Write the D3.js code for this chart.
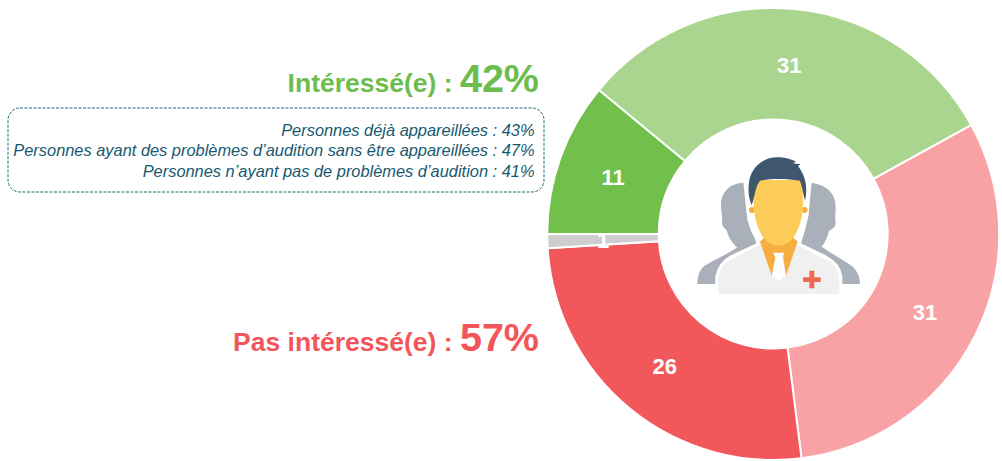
<!DOCTYPE html>
<html lang="fr"><head><meta charset="utf-8">
<script src="https://cdn.jsdelivr.net/npm/d3@7/dist/d3.min.js"></script>
<style>html,body{margin:0;padding:0;background:#fff}svg{display:block}text{font-family:"Liberation Sans",Arial,sans-serif}</style>
</head><body><svg id="c" width="1002" height="461"></svg>
<script>
const segments = ["Intéressé déjà", "Intéressé", "Pas intéressé", "Pas intéressé du tout", "NSP"];
const values = [11, 31, 31, 26, 1];
const colors = ["#70c04b", "#a9d58f", "#f8a2a6", "#f2575c", "#cfcdce"];
const headlines = [["Intéressé(e) : ", "42%", "#6dbd4e"], ["Pas intéressé(e) : ", "57%", "#f2565b"]];
const detailLines = ["Personnes déjà appareillées : 43%", "Personnes ayant des problèmes d’audition sans être appareillées : 47%", "Personnes n’ayant pas de problèmes d’audition : 41%"];

const svg = d3.select("#c");
const cx = 773.2, cy = 234, R = 226, r = 114.5;
const pie = d3.pie().sort(null).startAngle(-Math.PI / 2).endAngle(Math.PI * 1.5);
const arc = d3.arc().innerRadius(r).outerRadius(R);
const g = svg.append("g").attr("transform", `translate(${cx},${cy})`);
const arcs = pie(values);
g.selectAll("path").data(arcs).join("path")
  .attr("d", arc).attr("fill", (d, i) => colors[i]).attr("stroke", "#fff").attr("stroke-width", 2);
g.selectAll("text").data(arcs).join("text")
  .attr("transform", d => `translate(${arc.centroid(d)})`)
  .attr("text-anchor", "middle").attr("dy", "0.39em")
  .attr("fill", "#fff").attr("font-weight", 700).attr("font-size", 22)
  .text(d => d.value);

// headlines
const heads = svg.append("g").selectAll("text").data(headlines).join("text")
  .attr("x", 539).attr("y", (d, i) => i ? 351 : 92)
  .attr("text-anchor", "end").attr("fill", d => d[2]).attr("font-weight", 700);
heads.append("tspan").attr("font-size", 26.5).text(d => d[0]);
heads.append("tspan").attr("font-size", 39.5).text(d => d[1]);

// detail box
svg.append("rect").attr("x", 8).attr("y", 108).attr("width", 536).attr("height", 84).attr("rx", 12)
  .attr("fill", "none").attr("stroke", "#1c6a78").attr("stroke-width", 1).attr("stroke-dasharray", "3 1.5");
svg.append("g").selectAll("text").data(detailLines).join("text")
  .attr("x", 534.5).attr("y", (d, i) => 135.7 + i * 20.4)
  .attr("text-anchor", "end").attr("font-style", "italic").attr("font-size", 16.4).attr("fill", "#17596f")
  .text(d => d);

// central icon, drawn in the coordinates of a 3x crop
const icon = svg.append("g").attr("transform", "translate(660,130) scale(0.3333)");
const gray = "#a9b0b9";
icon.append("path").attr("fill", gray).attr("d", "M250,158 C210,160 183,185 183,225 C183,245 188,262 186,275 C186,290 195,295 200,300 C205,320 215,340 232,352 C200,375 150,395 130,410 C118,422 112,440 112,462 L165,462 L300,340 L262,270 Z");
icon.append("path").attr("fill", gray).attr("d", "M455,158 C500,165 527,190 527,230 C527,250 524,262 527,278 C527,292 515,298 507,302 C503,320 495,338 485,350 C520,375 560,395 580,412 C592,425 600,440 600,462 L548,462 L415,340 L445,260 Z");
// halo
icon.append("path").attr("fill", "#fff").attr("stroke", "#fff").attr("stroke-width", 18).attr("stroke-linejoin", "round")
  .attr("d", "M175,490 L175,440 C180,415 195,395 215,385 L300,345 L292,320 C280,300 270,270 270,240 L265,190 C265,120 300,82 345,82 C400,82 440,125 440,190 L438,240 C435,275 425,305 412,345 L495,385 C520,398 535,415 538,440 L538,490 Z");
// body
icon.append("path").attr("fill", "#f0f0f0").attr("d", "M175,492 L175,440 C180,415 195,398 215,388 L300,345 L412,345 L495,388 C520,400 535,418 538,440 L538,492 Z");
// collar
icon.append("path").attr("fill", "#f5ae3f").attr("d", "M300,335 L335,437 L346,380 L370,380 L378,437 L413,335 L395,318 L318,318 Z");
// tie
icon.append("path").attr("fill", "#fff").attr("d", "M339,368 L373,368 L366,386 L378,437 L357,452 L336,437 L348,386 Z");
// ears and face
icon.append("circle").attr("cx", 276).attr("cy", 240).attr("r", 9).attr("fill", "#f5ae3f");
icon.append("circle").attr("cx", 434).attr("cy", 240).attr("r", 9).attr("fill", "#f5ae3f");
icon.append("path").attr("fill", "#fdcb58").attr("d", "M282,185 L285,150 L425,150 L428,185 C432,240 425,280 405,315 C390,340 370,347 355,347 C340,347 320,340 305,315 C285,280 278,240 282,185 Z");
// hair
icon.append("path").attr("fill", "#3f566f").attr("d", "M275,225 C264,200 264,175 268,150 C278,105 315,82 350,82 C375,82 395,88 408,95 L398,100 L422,103 L414,108 C435,135 445,170 435,212 C430,195 428,175 420,152 C380,145 330,145 300,152 C285,170 285,200 275,225 Z");
// cross
icon.append("path").attr("fill", "#ee6a55").attr("d", "M448,422 H463 V442 H482 V456 H463 V475 H448 V456 H429 V442 H448 Z");
</script></body></html>
